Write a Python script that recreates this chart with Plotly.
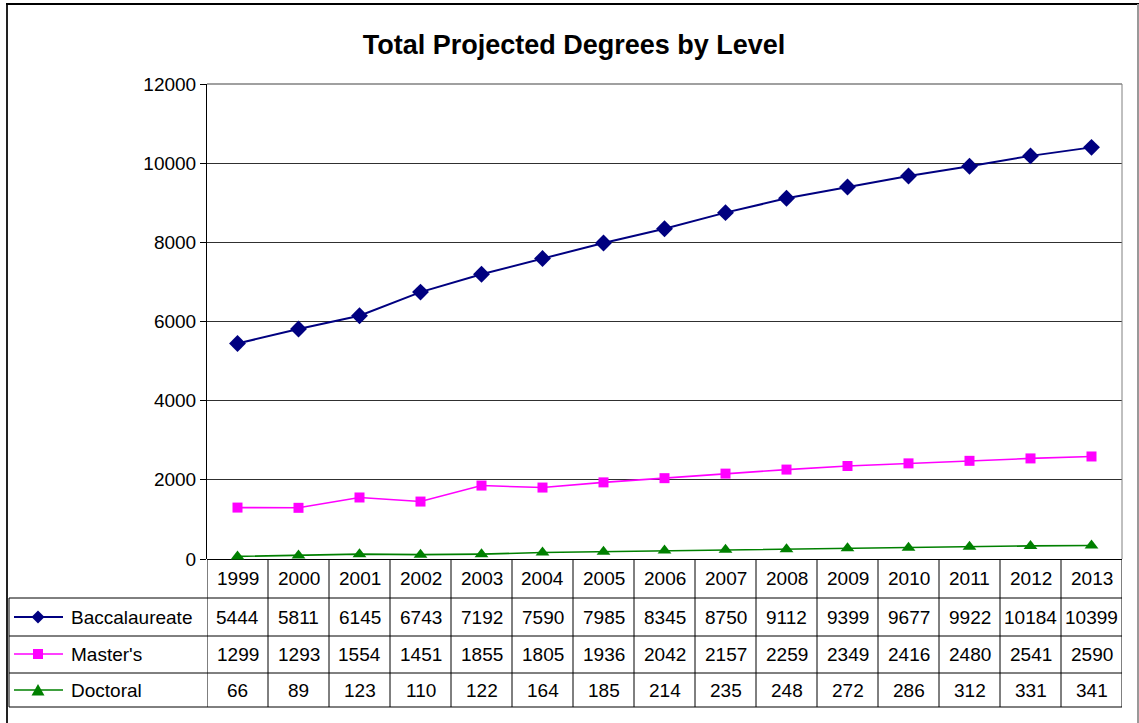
import plotly.graph_objects as go

# Projected degree counts by year and level
years = [1999, 2000, 2001, 2002, 2003, 2004, 2005, 2006, 2007, 2008, 2009, 2010, 2011, 2012, 2013]
baccalaureate = [5444, 5811, 6145, 6743, 7192, 7590, 7985, 8345, 8750, 9112, 9399, 9677, 9922, 10184, 10399]
masters = [1299, 1293, 1554, 1451, 1855, 1805, 1936, 2042, 2157, 2259, 2349, 2416, 2480, 2541, 2590]
doctoral = [66, 89, 123, 110, 122, 164, 185, 214, 235, 248, 272, 286, 312, 331, 341]
series_names = ["Baccalaureate", "Master's", "Doctoral"]
y_ticks = [0, 2000, 4000, 6000, 8000, 10000, 12000]

W, H = 1139, 723
L, R, T, B = 207, 1122, 84, 559  # plot area in pixels
FONT = "Arial, Liberation Sans, sans-serif"


def px(x):
    return (x - L) / (R - L)


def py(y):
    return (B - y) / (B - T)


series = [
    (series_names[0], baccalaureate, "#000080", "diamond", 13, 2),
    (series_names[1], masters, "#FF00FF", "square", 10, 1.6),
    (series_names[2], doctoral, "#008000", "triangle-up", 12, 1.6),
]

xs = list(range(len(years)))
fig = go.Figure()
for name, vals, color, sym, size, lw in series:
    fig.add_trace(go.Scatter(
        x=xs, y=vals, mode="lines+markers", name=name,
        line=dict(color=color, width=lw),
        marker=dict(symbol=sym, size=size, color=color, line=dict(width=0)),
        showlegend=False, cliponaxis=False,
    ))

shapes = []
annotations = []

# data table grid under the plot
row_lines = [598, 636, 673, 707]
row_centers = [578, 617, 654, 690]
ncol = len(years)
for k in range(ncol + 1):
    shapes.append(dict(type="line", xref="x", yref="paper",
                       x0=k - 0.5, x1=k - 0.5, y0=py(B), y1=py(707),
                       line=dict(color="#000000", width=1)))
for yy in row_lines:
    shapes.append(dict(type="line", xref="paper", yref="paper",
                       x0=px(9), x1=px(R), y0=py(yy), y1=py(yy),
                       line=dict(color="#000000", width=1)))
shapes.append(dict(type="line", xref="paper", yref="paper",
                   x0=px(9), x1=px(9), y0=py(598), y1=py(707),
                   line=dict(color="#000000", width=1)))

cell_font = dict(family=FONT, size=19, color="#000000")

# header row: years
for i, yr in enumerate(years):
    annotations.append(dict(x=i, y=py(row_centers[0]), xref="x", yref="paper",
                            text=str(yr), showarrow=False,
                            xanchor="center", yanchor="middle", font=cell_font))

# series rows: legend key, name and values
for r, (name, vals, color, sym, size, lw) in enumerate(series):
    yc = row_centers[r + 1]
    shapes.append(dict(type="line", xref="paper", yref="paper",
                       x0=px(14), x1=px(63), y0=py(yc), y1=py(yc),
                       line=dict(color=color, width=lw)))
    cx = 38
    if sym == "diamond":
        path = f"M {px(cx-6.5)},{py(yc)} L {px(cx)},{py(yc-6.5)} L {px(cx+6.5)},{py(yc)} L {px(cx)},{py(yc+6.5)} Z"
    elif sym == "square":
        path = f"M {px(cx-5)},{py(yc-5)} L {px(cx+5)},{py(yc-5)} L {px(cx+5)},{py(yc+5)} L {px(cx-5)},{py(yc+5)} Z"
    else:
        path = f"M {px(cx-6.5)},{py(yc+5.5)} L {px(cx+6.5)},{py(yc+5.5)} L {px(cx)},{py(yc-6)} Z"
    shapes.append(dict(type="path", xref="paper", yref="paper", path=path,
                       fillcolor=color, line=dict(width=0)))
    annotations.append(dict(x=px(69), y=py(yc), xref="paper", yref="paper",
                            text=name, showarrow=False,
                            xanchor="left", yanchor="middle", font=cell_font))
    for i, v in enumerate(vals):
        annotations.append(dict(x=i, y=py(yc), xref="x", yref="paper",
                                text=str(v), showarrow=False,
                                xanchor="center", yanchor="middle", font=cell_font))

# outer chart frame
shapes.append(dict(type="line", xref="paper", yref="paper",
                   x0=px(7), x1=px(7), y0=py(4), y1=py(730),
                   line=dict(color="#222222", width=2)))
shapes.append(dict(type="line", xref="paper", yref="paper",
                   x0=px(6), x1=px(1139), y0=py(4), y1=py(4),
                   line=dict(color="#000000", width=2)))
shapes.append(dict(type="line", xref="paper", yref="paper",
                   x0=px(1138), x1=px(1138), y0=py(4), y1=py(730),
                   line=dict(color="#999999", width=2)))
# plot area border (top and right)
shapes.append(dict(type="line", xref="paper", yref="paper",
                   x0=1, x1=1, y0=0, y1=1,
                   line=dict(color="#808080", width=1)))
shapes.append(dict(type="line", xref="paper", yref="paper",
                   x0=0, x1=1, y0=1, y1=1,
                   line=dict(color="#808080", width=1.5)))

fig.update_layout(
    width=W, height=H,
    margin=dict(l=L, r=W - R, t=T, b=H - B, pad=0),
    paper_bgcolor="#FFFFFF", plot_bgcolor="#FFFFFF",
    title=dict(text="<b>Total Projected Degrees by Level</b>",
               x=574 / W, xref="container", xanchor="center",
               y=1 - 45 / H, yref="container", yanchor="middle",
               font=dict(family=FONT, size=27, color="#000000")),
    xaxis=dict(range=[-0.5, ncol - 0.5], showgrid=False, zeroline=False,
               showticklabels=False, ticks="", showline=False, fixedrange=True),
    yaxis=dict(range=[0, 12000], tickvals=y_ticks, ticktext=[str(v) for v in y_ticks],
               showgrid=True, gridcolor="#303030", gridwidth=1,
               zeroline=True, zerolinecolor="#000000", zerolinewidth=1,
               showline=True, linecolor="#000000", linewidth=1,
               ticks="outside", ticklen=6, tickcolor="#000000",
               tickfont=cell_font),
    shapes=shapes,
    annotations=annotations,
)

fig.write_html("out.html")
